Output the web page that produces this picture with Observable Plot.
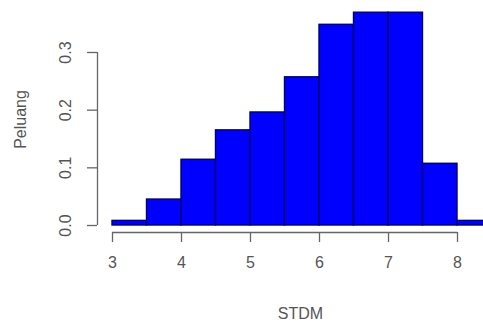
<!DOCTYPE html>
<html>
<head>
<meta charset="utf-8">
<script src="https://cdn.jsdelivr.net/npm/d3@7"></script>
<script src="https://cdn.jsdelivr.net/npm/@observablehq/plot@0.6"></script>
<style>
  body { margin: 0; background: #fff; overflow: hidden; }
  #chart svg { font-family: "Liberation Sans", Arial, sans-serif; }
</style>
</head>
<body>
<div id="chart"></div>
<script>
const binStart = [3.0, 3.5, 4.0, 4.5, 5.0, 5.5, 6.0, 6.5, 7.0, 7.5, 8.0];
const binEnd   = [3.5, 4.0, 4.5, 5.0, 5.5, 6.0, 6.5, 7.0, 7.5, 8.0, 8.5];
const peluang  = [0.008, 0.045, 0.114, 0.165, 0.196, 0.257, 0.348, 0.369, 0.369, 0.107, 0.008];
const xTicks = [3, 4, 5, 6, 7, 8];
const xTickLabels = ["3", "4", "5", "6", "7", "8"];
const yTicks = [0.0, 0.1, 0.2, 0.3];
const yTickLabels = ["0.0", "0.1", "0.2", "0.3"];

const bins = binStart.map((s, i) => ({x1: s, x2: binEnd[i], y: peluang[i]}));

const axisColor = "#666";
const textColor = "#555";

const chart = Plot.plot({
  width: 483,
  height: 323,
  marginLeft: 97,
  marginRight: -20,
  marginTop: 6,
  marginBottom: 91,
  style: {fontSize: "16px", fontFamily: "'Liberation Sans', Arial, sans-serif", background: "white"},
  x: {domain: [3, 8.5], range: [112, 491.5]},
  y: {domain: [0, 0.3], range: [225, 52], clamp: false},
  marks: [
    Plot.rectY(bins, {x1: "x1", x2: "x2", y: "y", fill: "#0000ff", stroke: "#00006a", strokeWidth: 1.4}),
    Plot.ruleY([0], {x1: xTicks[0], x2: xTicks[xTicks.length - 1], dy: 7, stroke: axisColor, strokeWidth: 1.3}),
    Plot.ruleX([xTicks[0]], {y1: yTicks[0], y2: yTicks[yTicks.length - 1], dx: -15, stroke: axisColor, strokeWidth: 1.3}),
    Plot.axisX({ticks: xTicks, tickFormat: (d, i) => xTickLabels[i], tickSize: 10, tickPadding: 14, stroke: axisColor, strokeWidth: 1.3, color: textColor,
      label: "STDM", labelAnchor: "center", labelArrow: "none", labelOffset: 86}),
    Plot.axisY({ticks: yTicks, tickFormat: (d, i) => yTickLabels[i], tickSize: 10, tickPadding: 17, tickRotate: -90,
      stroke: axisColor, strokeWidth: 1.3, color: textColor,
      label: "Peluang", labelAnchor: "center", labelArrow: "none", labelOffset: 83})
  ]
});
document.getElementById("chart").appendChild(chart);
</script>
</body>
</html>
